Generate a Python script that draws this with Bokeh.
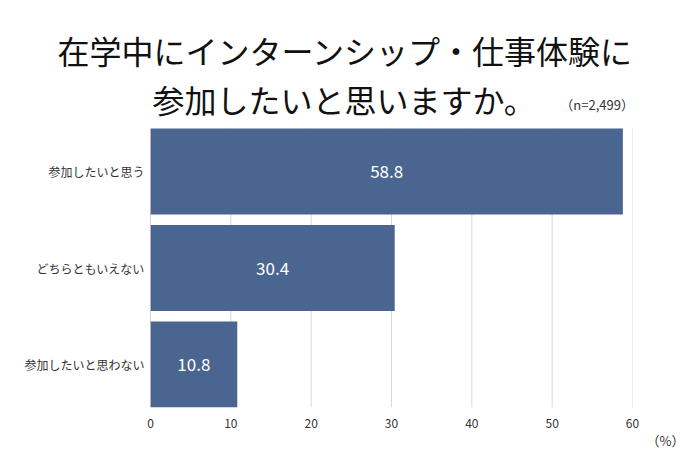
from bokeh.plotting import figure
from bokeh.models import ColumnDataSource, Label, FixedTicker, Range1d, LabelSet, Title
from bokeh.core.properties import value
from bokeh.embed import file_html
from bokeh.resources import INLINE

categories = ["参加したいと思う", "どちらともいえない", "参加したいと思わない"]
values = [58.8, 30.4, 10.8]
x_ticks = [0, 10, 20, 30, 40, 50, 60]
title_lines = ["在学中にインターンシップ・仕事体験に", "参加したいと思いますか。"]
note_n = "（n=2,499）"
unit_label = "（%）"

FONT = "Noto Sans CJK JP"
BAR_COLOR = "#4a6690"
BAR_H = 0.89

n = len(categories)
ypos = [n - 1 - i for i in range(n)]
src = ColumnDataSource(dict(
    y=ypos, v=values, mid=[v / 2 for v in values],
    lab=[f"{v:.1f}" for v in values], cat=categories))

y_lo = -BAR_H / 2
y_hi = n - 1 + BAR_H / 2

p = figure(width=686, height=458, output_backend="svg", toolbar_location=None,
           x_range=Range1d(0, 60), y_range=Range1d(y_lo, 3.0265),
           min_border_left=150, min_border_right=54, min_border_top=72,
           min_border_bottom=51)
p.outline_line_color = None
p.background_fill_color = "white"
p.border_fill_color = "white"

# grid lines and value axis line, limited to the bar band
grid_x = x_ticks[1:]
p.segment(x0=grid_x, x1=grid_x, y0=[y_lo] * len(grid_x), y1=[y_hi] * len(grid_x),
          line_color="#d9d9d9", line_width=1)
p.segment(x0=[0], x1=[0], y0=[y_lo], y1=[y_hi], line_color="#a6a6a6", line_width=1)

p.hbar(y="y", right="v", left=0, height=BAR_H, source=src,
       fill_color=BAR_COLOR, line_color=None)

p.add_layout(LabelSet(x="mid", y="y", text="lab", source=src,
                      text_color="white", text_font=value(FONT),
                      text_font_size=value("17px"),
                      text_align="center", text_baseline="middle"))

p.xgrid.grid_line_color = None
p.ygrid.grid_line_color = None

p.xaxis.ticker = FixedTicker(ticks=x_ticks)
p.xaxis.axis_line_color = None
p.xaxis.major_tick_line_color = None
p.xaxis.major_tick_out = 0
p.xaxis.minor_tick_line_color = None
p.xaxis.major_label_text_font = FONT
p.xaxis.major_label_text_font_size = "12px"
p.xaxis.major_label_text_color = "#333333"
p.xaxis.major_label_standoff = 11

p.yaxis.ticker = FixedTicker(ticks=ypos)
p.yaxis.major_label_overrides = {yy: c for yy, c in zip(ypos, categories)}
p.yaxis.axis_line_color = None
p.yaxis.major_tick_line_color = None
p.yaxis.major_tick_out = 0
p.yaxis.minor_tick_line_color = None
p.yaxis.major_label_text_font = FONT
p.yaxis.major_label_text_font_size = "12px"
p.yaxis.major_label_text_color = "#333333"
p.yaxis.major_label_standoff = 6

# first title line in the panel above the plot
p.add_layout(Title(text=title_lines[0], text_font=FONT, text_font_size="32px",
                   text_font_style="normal", text_color="#111111",
                   align="left", offset=-93, standoff=0), "above")

# second title line and sample size inside the frame
p.add_layout(Label(x=24.1, y=2.757, text=title_lines[1], text_font=FONT,
                   text_font_size="32px", text_color="#111111",
                   text_align="center", text_baseline="middle"))
p.add_layout(Label(x=55.6, y=2.695, text=note_n, text_font=FONT,
                   text_font_size="13px", text_color="#333333",
                   text_align="center", text_baseline="middle"))

# unit label below the axis
p.add_layout(Title(text=unit_label, text_font=FONT, text_font_size="13px",
                   text_font_style="normal", text_color="#333333",
                   align="right", offset=-52, standoff=0,
                   vertical_align="top"), "below")

open("out.html", "w").write(file_html(p, INLINE))
